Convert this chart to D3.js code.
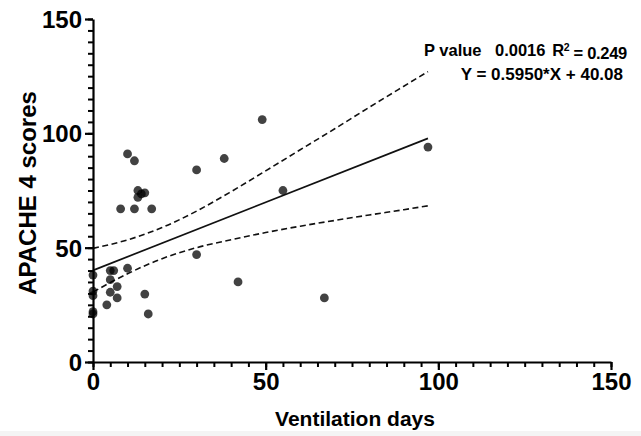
<!DOCTYPE html>
<html>
<head>
<meta charset="utf-8">
<script src="https://cdn.jsdelivr.net/npm/d3@7"></script>
<style>
  html, body { margin: 0; padding: 0; background: #fff; }
  svg { display: block; font-family: "Liberation Sans", Arial, Helvetica, sans-serif; }
</style>
</head>
<body>
<svg id="chart" width="641" height="436"></svg>
<script>
// ---- Data ----
const ventilationDays = [10, 12, 30, 13, 15, 14, 13, 8, 12, 17, 49, 38, 55, 97, 30, 42, 67,
                         0, 5, 6, 10, 5, 7, 0, 0, 5, 7, 15, 4, 0, 0, 16];
const apacheScores    = [91, 88, 84, 75, 74, 73.5, 72, 67, 67, 67, 106, 89, 75, 94, 47, 35, 28,
                         38, 40, 40, 41, 36, 33, 31, 29, 30.5, 28, 29.7, 25, 22, 21, 21];

// Regression fit reported in the figure
const fitSlope = 0.5950;
const fitIntercept = 40.08;
const fitRange = [0, 97];

// 95% confidence band
const bandX     = [0, 10, 20, 30, 40, 50, 60, 70, 80, 90, 97];
const bandUpper = [49.7, 53.4, 58.8, 66.0, 74.5, 83.6, 92.8, 102.0, 111.4, 120.6, 127.0];
const bandLower = [30.6, 38.6, 45.2, 50.0, 53.5, 56.6, 59.4, 61.9, 64.3, 66.6, 68.3];

const xTicks = [0, 50, 100, 150];
const yTicks = [0, 50, 100, 150];
const minorStep = 5;

const xTitle = "Ventilation days";
const yTitle = "APACHE 4 scores";
const statsLine1 = { pLabel: "P value", pValue: "0.0016", r2: "0.249" };
const statsLine2 = "Y = 0.5950*X + 40.08";

// ---- Layout ----
const svg = d3.select("#chart");
const x = d3.scaleLinear().domain([0, 150]).range([93, 611]);
const y = d3.scaleLinear().domain([0, 150]).range([362, 19]);

const minorX = d3.range(0, 150 + 0.001, minorStep);
const minorY = d3.range(0, 150 + 0.001, minorStep);

// faint bottom strip
svg.append("rect").attr("x", 0).attr("y", 431).attr("width", 641).attr("height", 5).attr("fill", "#f4f4f4");

// Band and fit lines
const bandLine = d3.line().x((d, i) => x(bandX[i])).y(d => y(d)).curve(d3.curveMonotoneX);
svg.append("path").datum(bandUpper).attr("d", bandLine)
  .attr("fill", "none").attr("stroke", "#111").attr("stroke-width", 1.6).attr("stroke-dasharray", "6,3.5");
svg.append("path").datum(bandLower).attr("d", bandLine)
  .attr("fill", "none").attr("stroke", "#111").attr("stroke-width", 1.6).attr("stroke-dasharray", "6,3.5");

const fitLine = d3.line().x(d => x(d)).y(d => y(fitIntercept + fitSlope * d));
svg.append("path").datum(fitRange).attr("d", fitLine)
  .attr("fill", "none").attr("stroke", "#111").attr("stroke-width", 1.7);

// Points
svg.append("g").selectAll("circle")
  .data(ventilationDays.map((d, i) => [d, apacheScores[i]]))
  .join("circle")
  .attr("cx", d => x(d[0]))
  .attr("cy", d => y(d[1]))
  .attr("r", 4.4)
  .attr("fill", "#000")
  .attr("fill-opacity", 0.74);

// Axes: minor ticks
const gxMinor = svg.append("g").attr("transform", `translate(0,${y(0)})`)
  .call(d3.axisBottom(x).tickValues(minorX).tickSize(5).tickFormat(""));
const gyMinor = svg.append("g").attr("transform", `translate(${x(0)},0)`)
  .call(d3.axisLeft(y).tickValues(minorY).tickSize(5).tickFormat(""));
[gxMinor, gyMinor].forEach(g => {
  g.select(".domain").remove();
  g.selectAll(".tick line").attr("stroke", "#000").attr("stroke-width", 2);
});

// Axes: major ticks
const gx = svg.append("g").attr("transform", `translate(0,${y(0)})`)
  .call(d3.axisBottom(x).tickValues(xTicks).tickSize(8).tickSizeOuter(0).tickPadding(3));
const gy = svg.append("g").attr("transform", `translate(${x(0)},0)`)
  .call(d3.axisLeft(y).tickValues(yTicks).tickSize(8).tickSizeOuter(0).tickPadding(3));
[gx, gy].forEach(g => {
  g.select(".domain").attr("stroke", "#000").attr("stroke-width", 2.2);
  g.selectAll(".tick line").attr("stroke", "#000").attr("stroke-width", 2.2);
  g.selectAll(".tick text")
    .attr("fill", "#000")
    .style("font-family", '"Liberation Sans", Arial, sans-serif')
    .style("font-weight", "bold")
    .style("font-size", "24px");
});
gy.selectAll(".tick text").attr("dy", "0.36em");

// Axis titles
svg.append("text")
  .attr("x", 355).attr("y", 426)
  .attr("text-anchor", "middle")
  .style("font-weight", "bold").style("font-size", "21px")
  .text(xTitle);

svg.append("text")
  .attr("transform", `translate(36,${193}) rotate(-90)`)
  .attr("text-anchor", "middle")
  .style("font-weight", "bold").style("font-size", "24px")
  .text(yTitle);

// Statistics annotation
const statFont = "16.5px";
svg.append("text").attr("x", 424).attr("y", 56)
  .style("font-weight", "bold").style("font-size", statFont).text(statsLine1.pLabel);
svg.append("text").attr("x", 495).attr("y", 56)
  .style("font-weight", "bold").style("font-size", statFont).text(statsLine1.pValue);
const r2 = svg.append("text").attr("x", 627).attr("y", 56).attr("text-anchor", "end")
  .style("font-weight", "bold").style("font-size", statFont).attr("letter-spacing", "-0.3");
r2.append("tspan").text("R");
r2.append("tspan").attr("dy", "-0.45em").style("font-size", "10.5px").text("2");
r2.append("tspan").attr("dy", "0.45em").text(" = " + statsLine1.r2);

svg.append("text").attr("x", 623).attr("y", 80).attr("text-anchor", "end")
  .style("font-weight", "bold").style("font-size", "17px").text(statsLine2);
</script>
</body>
</html>
